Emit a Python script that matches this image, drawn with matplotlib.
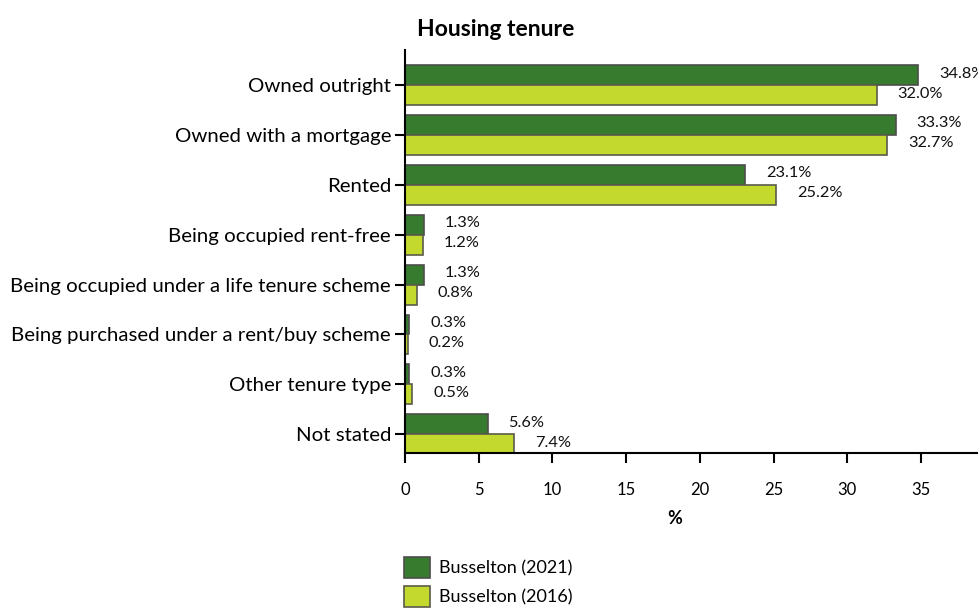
import matplotlib
matplotlib.use('Agg')
import matplotlib.pyplot as plt
import numpy as np

plt.rcParams['font.family'] = ['Lato', 'DejaVu Sans']

categories = ['Owned outright', 'Owned with a mortgage', 'Rented',
              'Being occupied rent-free',
              'Being occupied under a life tenure scheme',
              'Being purchased under a rent/buy scheme',
              'Other tenure type', 'Not stated']
busselton_2021 = [34.8, 33.3, 23.1, 1.3, 1.3, 0.3, 0.3, 5.6]
busselton_2016 = [32.0, 32.7, 25.2, 1.2, 0.8, 0.2, 0.5, 7.4]
series_names = ['Busselton (2021)', 'Busselton (2016)']
colours = ['#367B2E', '#C4D92E']
x_ticks = [0, 5, 10, 15, 20, 25, 30, 35]

fig = plt.figure(figsize=(9.79, 6.12), dpi=100)
ax = fig.add_axes([405 / 979, 1 - 453 / 612, 1 - 405 / 979, (453 - 50) / 612])

y = np.arange(len(categories))
h = 0.4
b1 = ax.barh(y - h / 2, busselton_2021, height=h, color=colours[0],
             edgecolor='#4d4d4d', linewidth=1.2, label=series_names[0])
b2 = ax.barh(y + h / 2, busselton_2016, height=h, color=colours[1],
             edgecolor='#5a5a4a', linewidth=1.2, label=series_names[1])

# value labels just past the end of each bar
for bars, vals in ((b1, busselton_2021), (b2, busselton_2016)):
    for bar, v in zip(bars, vals):
        ax.annotate(f'{v:.1f}%', (v, bar.get_y() + bar.get_height() / 2),
                    xytext=(15, 1), textcoords='offset points',
                    ha='left', va='center', fontsize=11.8, color='#111111',
                    annotation_clip=False)

ax.set_xlim(0, (979 - 405) / 14.74)
ax.set_ylim(7.375, -0.70)
ax.set_yticks(y)
ax.set_yticklabels(categories, fontsize=14.7)
ax.set_xticks(x_ticks)
ax.set_xticklabels([str(t) for t in x_ticks], fontsize=12)
ax.tick_params(axis='x', length=7, width=1.5, pad=14)
ax.tick_params(axis='y', length=7, width=1.5, pad=3)

for side in ('top', 'right'):
    ax.spines[side].set_visible(False)
for side in ('left', 'bottom'):
    ax.spines[side].set_linewidth(1.5)

fig.text(417 / 979, 1 - 30 / 612, 'Housing tenure', fontsize=16.5,
         fontweight='bold', ha='left', va='center')
fig.text(675 / 979, 1 - 518 / 612, '%', fontsize=13, fontweight='bold',
         ha='center', va='center')

fig.legend(loc='upper left', bbox_to_anchor=(404 / 979, 1 - 557 / 612),
           frameon=False, fontsize=13, handlelength=1.45, handleheight=1.45,
           handletextpad=0.5, labelspacing=0.4, borderaxespad=0,
           borderpad=0)

fig.savefig('out.png', dpi=100)
